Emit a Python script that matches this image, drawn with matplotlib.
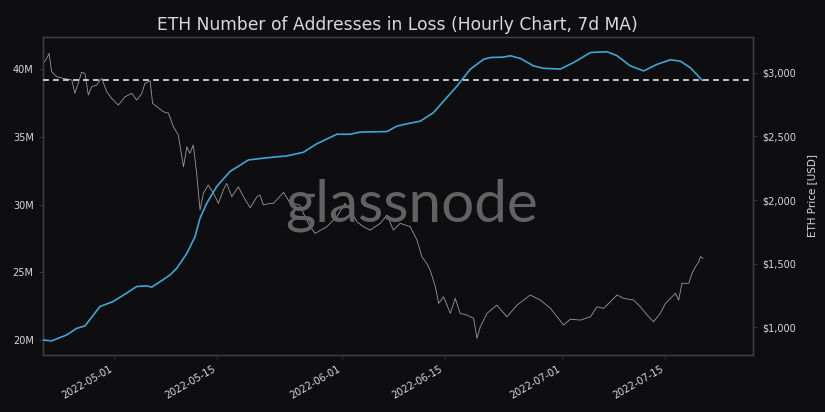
import matplotlib
matplotlib.use('Agg')
import matplotlib.pyplot as plt
import matplotlib.dates as mdates
import matplotlib.ticker as mticker
import pandas as pd

# ── 데이터 ───────────────────────────────────────────
loss_dates = [
    '2022-04-21 09:00', '2022-04-22 12:00', '2022-04-24 13:00', '2022-04-25 22:00',
    '2022-04-27 01:00', '2022-04-29 02:00', '2022-04-30 21:00', '2022-05-02 17:00',
    '2022-05-04 02:00', '2022-05-05 11:00', '2022-05-06 03:00', '2022-05-07 06:00',
    '2022-05-08 15:00', '2022-05-09 13:00', '2022-05-10 22:00', '2022-05-12 01:00',
    '2022-05-12 17:00', '2022-05-13 15:00', '2022-05-15 00:00', '2022-05-16 19:00',
    '2022-05-19 07:00', '2022-05-21 19:00', '2022-05-24 13:00', '2022-05-26 19:00',
    '2022-05-28 15:00', '2022-05-31 08:00', '2022-06-02 04:00', '2022-06-03 12:00',
    '2022-06-07 04:00', '2022-06-08 12:00', '2022-06-09 21:00', '2022-06-11 17:00',
    '2022-06-13 12:00', '2022-06-14 21:00', '2022-06-16 17:00', '2022-06-18 12:00',
    '2022-06-20 08:00', '2022-06-21 06:00', '2022-06-23 01:00', '2022-06-23 23:00',
    '2022-06-25 08:00', '2022-06-27 03:00', '2022-06-28 12:00', '2022-06-30 19:00',
    '2022-07-02 14:00', '2022-07-04 21:00', '2022-07-07 03:00', '2022-07-08 12:00',
    '2022-07-10 07:00', '2022-07-12 03:00', '2022-07-13 23:00', '2022-07-15 18:00',
    '2022-07-17 03:00', '2022-07-18 12:00', '2022-07-20 02:00',
]
loss_values = [
    20.00, 19.93, 20.37, 20.86, 21.04, 22.47, 22.84, 23.46,
    23.95, 24.00, 23.90, 24.30, 24.80, 25.30, 26.40, 27.65,
    29.00, 30.10, 31.35, 32.45, 33.30, 33.46, 33.60, 33.87,
    34.50, 35.20, 35.20, 35.36, 35.40, 35.80, 35.97, 36.17,
    36.80, 37.65, 38.76, 40.00, 40.74, 40.87, 40.90, 41.00,
    40.80, 40.25, 40.07, 40.02, 40.50, 41.24, 41.30, 41.00,
    40.25, 39.88, 40.37, 40.70, 40.60, 40.10, 39.19,
]  # 백만 개

price_dates = [
    '2022-04-21 09:00', '2022-04-21 20:00', '2022-04-22 04:00', '2022-04-22 12:00',
    '2022-04-23 05:00', '2022-04-24 02:00', '2022-04-25 06:00', '2022-04-25 16:00',
    '2022-04-26 03:00', '2022-04-26 14:00', '2022-04-27 01:00', '2022-04-27 12:00',
    '2022-04-27 23:00', '2022-04-28 15:00', '2022-04-29 08:00', '2022-04-30 00:00',
    '2022-04-30 16:00', '2022-05-01 14:00', '2022-05-02 12:00', '2022-05-03 10:00',
    '2022-05-04 02:00', '2022-05-04 19:00', '2022-05-05 05:00', '2022-05-05 22:00',
    '2022-05-06 06:00', '2022-05-06 20:00', '2022-05-07 17:00', '2022-05-08 10:00',
    '2022-05-09 02:00', '2022-05-09 18:00', '2022-05-10 11:00', '2022-05-10 22:00',
    '2022-05-11 08:00', '2022-05-11 19:00', '2022-05-12 06:00', '2022-05-12 17:00',
    '2022-05-13 04:00', '2022-05-13 20:00', '2022-05-14 13:00', '2022-05-15 05:00',
    '2022-05-15 21:00', '2022-05-16 08:00', '2022-05-17 01:00', '2022-05-17 22:00',
    '2022-05-18 15:00', '2022-05-19 13:00', '2022-05-20 11:00', '2022-05-20 21:00',
    '2022-05-21 08:00', '2022-05-22 06:00', '2022-05-22 17:00', '2022-05-24 02:00',
    '2022-05-25 00:00', '2022-05-25 10:00', '2022-05-26 08:00', '2022-05-26 19:00',
    '2022-05-27 17:00', '2022-05-28 09:00', '2022-05-29 23:00', '2022-05-31 08:00',
    '2022-06-01 11:00', '2022-06-02 04:00', '2022-06-03 02:00', '2022-06-03 23:00',
    '2022-06-04 21:00', '2022-06-06 06:00', '2022-06-07 04:00', '2022-06-08 01:00',
    '2022-06-08 23:00', '2022-06-10 08:00', '2022-06-11 06:00', '2022-06-11 22:00',
    '2022-06-12 14:00', '2022-06-13 01:00', '2022-06-13 18:00', '2022-06-14 05:00',
    '2022-06-14 21:00', '2022-06-15 19:00', '2022-06-16 11:00', '2022-06-17 03:00',
    '2022-06-18 01:00', '2022-06-18 23:00', '2022-06-19 10:00', '2022-06-19 21:00',
    '2022-06-20 19:00', '2022-06-22 03:00', '2022-06-23 12:00', '2022-06-24 21:00',
    '2022-06-26 16:00', '2022-06-28 01:00', '2022-06-29 10:00', '2022-06-30 08:00',
    '2022-07-01 05:00', '2022-07-02 03:00', '2022-07-03 12:00', '2022-07-04 21:00',
    '2022-07-05 18:00', '2022-07-06 16:00', '2022-07-07 14:00', '2022-07-08 12:00',
    '2022-07-09 09:00', '2022-07-10 18:00', '2022-07-11 16:00', '2022-07-12 14:00',
    '2022-07-13 11:00', '2022-07-14 09:00', '2022-07-15 02:00', '2022-07-15 18:00',
    '2022-07-16 11:00', '2022-07-16 21:00', '2022-07-17 08:00', '2022-07-18 06:00',
    '2022-07-18 17:00', '2022-07-19 04:00', '2022-07-19 15:00', '2022-07-19 20:00',
    '2022-07-20 05:00',
]
price_values = [
    3074, 3113, 3152, 3008, 2968, 2956, 2943, 2838,
    2917, 3003, 2995, 2825, 2890, 2903, 2956, 2851,
    2799, 2746, 2811, 2838, 2785, 2838, 2917, 2937,
    2760, 2733, 2694, 2681, 2576, 2511, 2262, 2419,
    2367, 2432, 2210, 1921, 2053, 2118, 2053, 1974,
    2078, 2131, 2026, 2104, 2026, 1940, 2026, 2039,
    1961, 1974, 1974, 2060, 1974, 1974, 1960, 1895,
    1790, 1738, 1790, 1869, 1974, 1921, 1830, 1790,
    1764, 1817, 1882, 1764, 1817, 1790, 1686, 1555,
    1503, 1450, 1319, 1189, 1240, 1110, 1228, 1110,
    1097, 1071, 914, 1005, 1110, 1175, 1083, 1175,
    1254, 1214, 1150, 1083, 1018, 1064, 1057, 1083,
    1162, 1149, 1201, 1254, 1228, 1214, 1162, 1097,
    1044, 1110, 1188, 1228, 1267, 1214, 1346, 1346,
    1424, 1476, 1515, 1555, 1542,
]

x_ticks = ['2022-05-01', '2022-05-15', '2022-06-01', '2022-06-15', '2022-07-01', '2022-07-15']
y_ticks = [20, 25, 30, 35, 40]
price_ticks = [1000, 1500, 2000, 2500, 3000]

BG    = '#0e0d10'
FG    = '#d9d9d9'
SPINE = '#3c3c40'
BLUE  = '#3ea6d6'
GREY  = '#9a9a9a'

loss_t = pd.to_datetime(loss_dates)
price_t = pd.to_datetime(price_dates)

fig = plt.figure(figsize=(8.25, 4.12), dpi=100, facecolor=BG)
ax = fig.add_axes([0.0518, 0.139, 0.8609, 0.771])
ax.set_facecolor(BG)
ax2 = ax.twinx()

# 가격 (오른쪽 축)
ax2.plot(price_t, price_values, color=GREY, lw=0.6, zorder=2)
ax2.set_ylim(785, 3280)
ax2.yaxis.set_major_locator(mticker.FixedLocator(price_ticks))
ax2.yaxis.set_major_formatter(mticker.FuncFormatter(lambda v, p: f'${v:,.0f}'))
ax2.set_ylabel('ETH Price [USD]', color=FG, fontsize=7.5, labelpad=8)

# 손실 주소 수 (왼쪽 축, 위에 그림)
ax.set_zorder(ax2.get_zorder() + 1)
ax.patch.set_visible(False)
ax.plot(loss_t, loss_values, color=BLUE, lw=1.2, zorder=3)
ax.axhline(loss_values[-1], color='#e6e6e6', lw=1.2, ls=(0, (3.5, 2.5)), zorder=4)
ax.set_ylim(18.91, 42.38)
ax.yaxis.set_major_locator(mticker.FixedLocator(y_ticks))
ax.yaxis.set_major_formatter(mticker.FuncFormatter(lambda v, p: f'{v:.0f}M'))

ax.set_xlim(pd.Timestamp('2022-04-21 07:00'), pd.Timestamp('2022-07-27 00:00'))
ax.xaxis.set_major_locator(mticker.FixedLocator(mdates.date2num(pd.to_datetime(x_ticks))))
ax.xaxis.set_major_formatter(mdates.DateFormatter('%Y-%m-%d'))
for lbl in ax.get_xticklabels():
    lbl.set_rotation(30)
    lbl.set_ha('right')

for a in (ax, ax2):
    a.tick_params(colors=FG, labelsize=7, length=3, width=0.6)
    a.tick_params(axis='x', colors=SPINE, labelcolor=FG)
    for s in a.spines.values():
        s.set_color(SPINE)
        s.set_linewidth(1.0)
ax.tick_params(axis='y', colors=SPINE, labelcolor=FG)
ax2.tick_params(axis='y', colors=SPINE, labelcolor=FG)

ax.set_title('ETH Number of Addresses in Loss (Hourly Chart, 7d MA)',
             color=FG, fontsize=12.3, pad=5)

# 워터마크
ax.text(0.52, 0.47, 'glassnode', transform=ax.transAxes, ha='center', va='center',
        fontsize=42, color='#626262', family='Lato', zorder=1)

fig.savefig('out.png', dpi=100, facecolor=BG)
